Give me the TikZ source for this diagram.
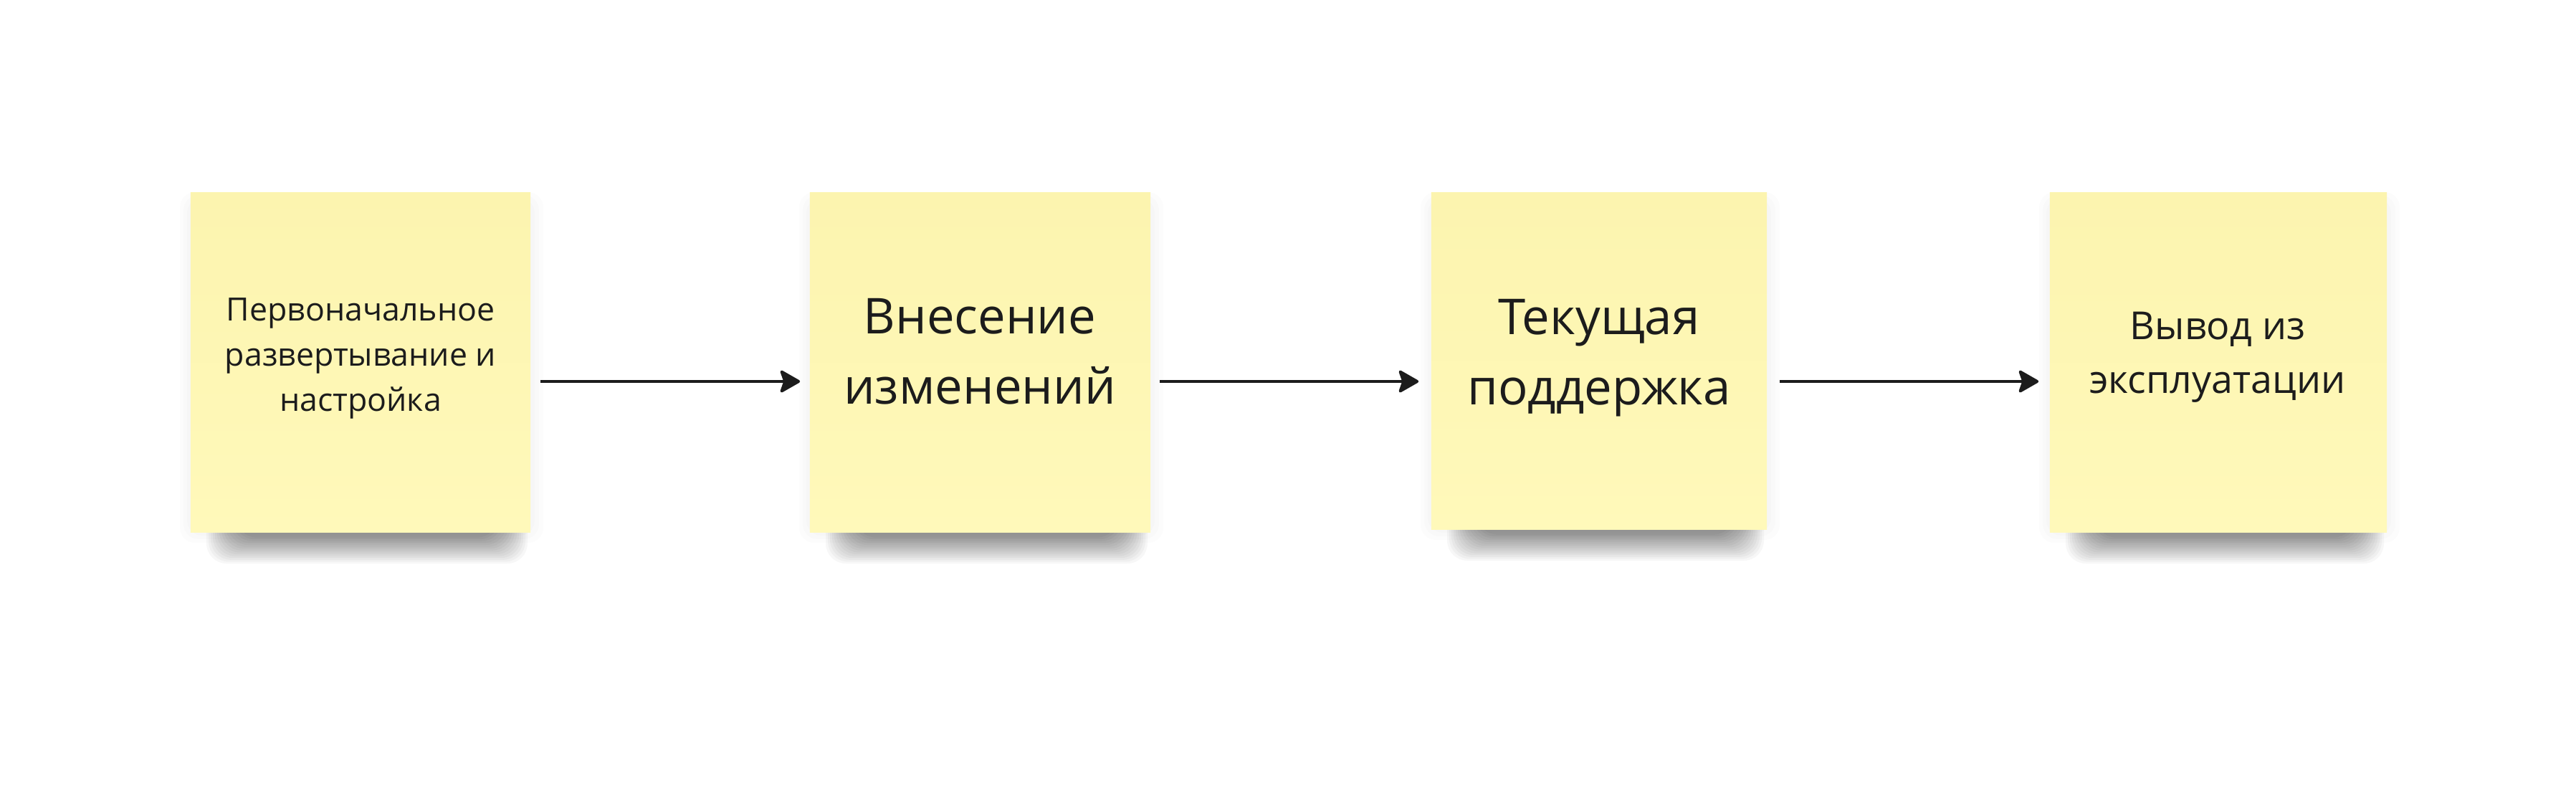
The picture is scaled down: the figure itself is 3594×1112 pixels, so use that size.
\documentclass[tikz,border=0pt]{standalone}
\usepackage{fontspec}
\setmainfont{Open Sans}
\usetikzlibrary{arrows.meta,calc}
\definecolor{notetop}{HTML}{FCF4AF}
\definecolor{notebot}{HTML}{FFF9BA}
\definecolor{ink}{HTML}{1C1C1C}
\newcommand\noteshadow[3]{%
  \foreach \i in {0,...,14} {
    \fill[black, opacity=0.032, rounded corners=8pt]
      (#1+22+\i*3, #3-40) rectangle (#2-4-\i*3, #3+44-\i*2.6);
  }
  \foreach \i in {1,2,3} {
    \fill[black, opacity=0.01, rounded corners=6pt]
      (#1-\i*5, 280-\i*4) rectangle (#2+\i*6, #3+\i*5);
  }
}
\begin{document}
\begin{tikzpicture}[x=0.01cm, y=-0.01cm,
  note/.style={rectangle, inner sep=0pt, top color=notetop, bottom color=notebot, draw=none},
  txt/.style={align=center, text=ink, inner sep=0pt},
  arr/.style={draw=ink, line width=1.15pt, -{Stealth[length=0.31cm, width=0.35cm, inset=0.06cm, round]}}]
\useasboundingbox[fill=white] (0,0) rectangle (3594,1112);

\noteshadow{266}{740}{742}
\noteshadow{1130}{1605}{742}
\noteshadow{1997}{2465}{738}
\noteshadow{2860}{3330}{742}

\node[note, minimum width=4.74cm, minimum height=4.73cm] (n1) at (503,505.5) {};
\node[note, minimum width=4.75cm, minimum height=4.73cm] (n2) at (1367.5,505.5) {};
\node[note, minimum width=4.68cm, minimum height=4.69cm] (n3) at (2231,503.5) {};
\node[note, minimum width=4.70cm, minimum height=4.73cm] (n4) at (3095,505.5) {};

\node[txt, font=\fontsize{12.7pt}{18pt}\selectfont] (t1) at (503,500) {Первоначальное\\развертывание и\\настройка};
\node[txt, font=\fontsize{19.6pt}{27.9pt}\selectfont] (t2) at (1367,490.5) {Внесение\\изменений};
\node[txt, font=\fontsize{19.6pt}{27.9pt}\selectfont] (t3) at (2231,499) {Текущая\\поддержка};
\node[txt, font=\fontsize{15.3pt}{21.3pt}\selectfont] (t4) at (3094,498) {Вывод из\\эксплуатации};

\draw[arr] ($(n1.east)+(13,26.5)$) -- ($(n2.west)+(-13,26.5)$);
\draw[arr] ($(n2.east)+(12,26.5)$) -- ($(n3.west)+(-17,28.5)$);
\draw[arr] ($(n3.east)+(17,28.5)$) -- ($(n4.west)+(-15,26.5)$);
\end{tikzpicture}
\end{document}
